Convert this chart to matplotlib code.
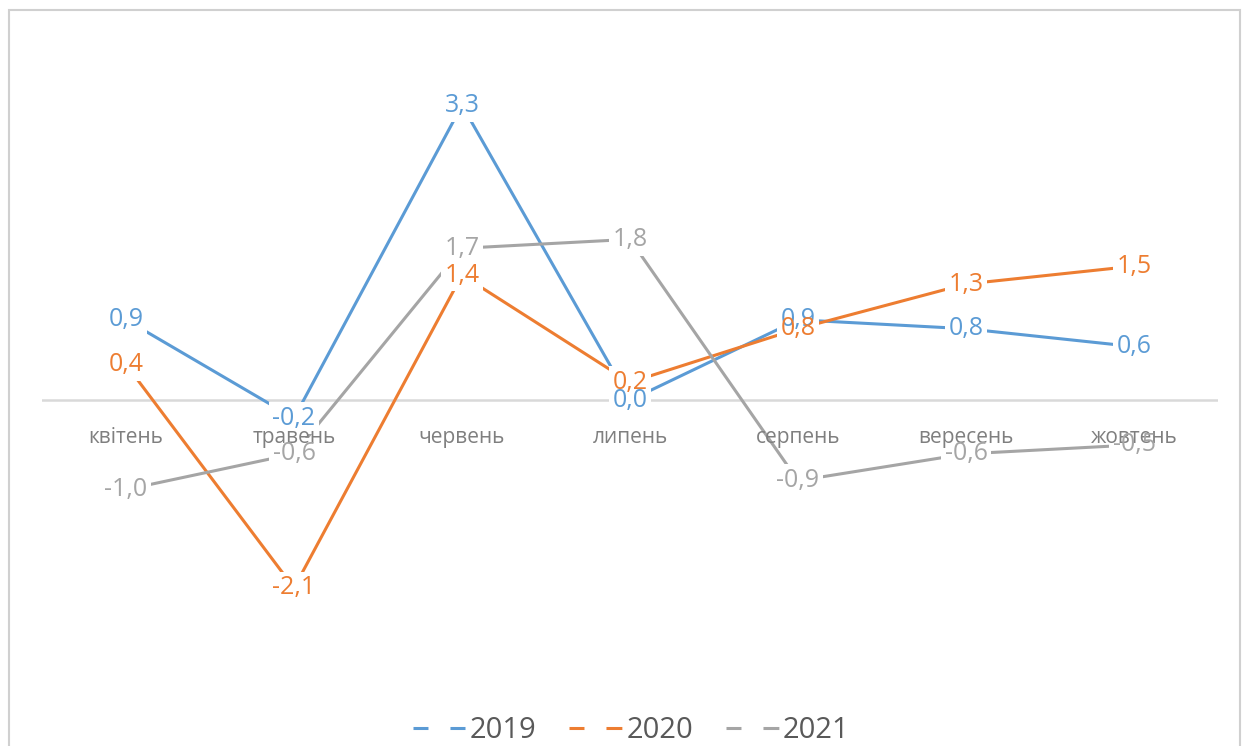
import matplotlib.pyplot as plt
from matplotlib.lines import Line2D
from matplotlib.patches import Rectangle

plt.rcParams['font.family'] = ['Open Sans', 'DejaVu Sans']

# місяці та значення за роками
months = ['квітень', 'травень', 'червень', 'липень', 'серпень', 'вересень', 'жовтень']
years = ['2019', '2020', '2021']
v2019 = [0.9, -0.2, 3.3, 0.0, 0.9, 0.8, 0.6]
v2020 = [0.4, -2.1, 1.4, 0.2, 0.8, 1.3, 1.5]
v2021 = [-1.0, -0.6, 1.7, 1.8, -0.9, -0.6, -0.5]
colors = ['#5B9BD5', '#ED7D31', '#A5A5A5']

W, H = 1249, 746
fig = plt.figure(figsize=(W / 100, H / 100), dpi=100)
ax = fig.add_axes([42 / W, 1 - 680 / H, 1176 / W, 640 / H])
ax.set_xlim(-0.5, len(months) - 0.5)
ax.set_ylim(-3.13, 4.03)
ax.axis('off')

# рамка області діаграми
fig.patches.append(Rectangle((9 / W, -0.05), 1231 / W, 1.05 - 10 / H,
                             transform=fig.transFigure, fill=False,
                             edgecolor='#d0d0d0', lw=1.5))

ax.axhline(0, color='#d9d9d9', lw=1.8, zorder=1)

x = list(range(len(months)))
series = [v2019, v2020, v2021]
for vals, c in zip(series, colors):
    ax.plot(x, vals, color=c, lw=2.2, zorder=2, solid_capstyle='butt')

# білі підкладки під підписами, щоб лінії обривались біля них
for vals in series:
    for i, v in enumerate(vals):
        s = f'{v:.1f}'.replace('.', ',')
        ax.text(i, v, s, ha='center', va='center', fontsize=18, color='none',
                zorder=3, bbox=dict(boxstyle='square,pad=0.15', fc='white', ec='none'))

for vals, c in zip(series, colors):
    for i, v in enumerate(vals):
        s = f'{v:.1f}'.replace('.', ',')
        ax.text(i, v, s, ha='center', va='center', fontsize=18, color=c, zorder=5)

# підписи категорій під нульовою лінією
for i, m in enumerate(months):
    ax.annotate(m, (i, 0), xytext=(0, -37), textcoords='offset pixels',
                ha='center', va='center', fontsize=15, color='#7f7f7f', zorder=4)

handles = [Line2D([], [], color=c, lw=2.2, linestyle=(0, (4.9, 7.2, 5.2, 50)))
           for c in colors]
fig.legend(handles, years, loc='center', bbox_to_anchor=(631 / W, 1 - 731 / H),
           ncol=3, frameon=False, fontsize=21, handlelength=1.81,
           handletextpad=0.14, columnspacing=1.13, labelcolor='#595959')

fig.savefig('out.png', dpi=100)
